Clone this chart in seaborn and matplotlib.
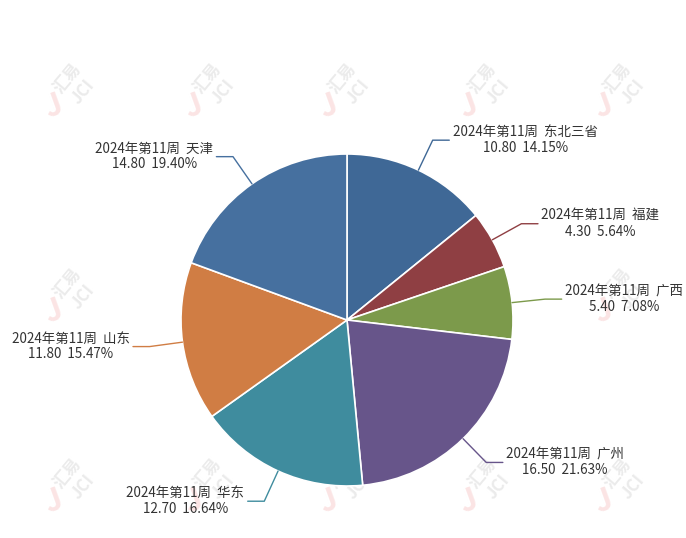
import numpy as np
import matplotlib
matplotlib.use("Agg")
import matplotlib.pyplot as plt
import seaborn as sns

# ---- data ----
week = "2024年第11周"
regions = ["东北三省", "福建", "广西", "广州", "华东", "山东", "天津"]
values = [10.80, 4.30, 5.40, 16.50, 12.70, 11.80, 14.80]
percents = ["14.15%", "5.64%", "7.08%", "21.63%", "16.64%", "15.47%", "19.40%"]
colors = ["#3f6896", "#8f3f43", "#7c9a4b", "#67558a", "#3f8c9e", "#d07d44", "#46709f"]

sns.set_theme(style="white")
plt.rcParams['font.family'] = ['Noto Sans CJK SC', 'DejaVu Sans']

W, H, DPI = 686, 538, 100
fig = plt.figure(figsize=(W / DPI, H / DPI), dpi=DPI)
ax = fig.add_axes([0, 0, 1, 1])
fig.patch.set_facecolor("white")
ax.set_facecolor("white")

R_PX = 166.0
CX, CY = 347.0, 320.0

wedges, _ = ax.pie(values, colors=colors, startangle=90, counterclock=False,
                   radius=1.0, center=(0, 0),
                   wedgeprops=dict(edgecolor="white", linewidth=1.2))
for w in wedges:
    w.set_zorder(2)

ax.set_aspect("auto")
ax.set_xlim(-CX / R_PX, (W - CX) / R_PX)
ax.set_ylim(-(H - CY) / R_PX, CY / R_PX)
ax.set_axis_off()

# faint watermarks (kept inside the canvas)
wm_x = [75, 215, 350, 490, 625]
wm_y = [85, 290, 480]
for yy in wm_y:
    for xx in wm_x:
        ax.text((xx - CX) / R_PX, (CY - yy) / R_PX, "汇易\nJCI", fontsize=12,
                color="#ebebeb", rotation=50, ha="center", va="center",
                zorder=0, fontweight="bold")
        ax.text((xx - 22 - CX) / R_PX, (CY - yy - 22) / R_PX, "J", fontsize=22,
                color="#fbe4e4", rotation=20, ha="center", va="center",
                zorder=0, fontweight="bold")

for w, reg, val, pct, col in zip(wedges, regions, values, percents, colors):
    ang = np.deg2rad((w.theta1 + w.theta2) / 2)
    x0, y0 = np.cos(ang), np.sin(ang)
    x1, y1 = 1.2 * x0, 1.2 * y0
    side = 1 if x0 >= 0 else -1
    x2 = x1 + side * 0.10
    ax.plot([x0, x1, x2], [y0, y1, y1], color=col, lw=1.0, zorder=3)
    ax.text(x2 + side * 0.02, y1, f"{week}  {reg}\n{val:.2f}  {pct}",
            ha="left" if side > 0 else "right", va="center",
            multialignment="center", fontsize=9.7, color="#333333",
            linespacing=1.15, zorder=4)

fig.savefig("out.png", dpi=DPI, facecolor="white")
